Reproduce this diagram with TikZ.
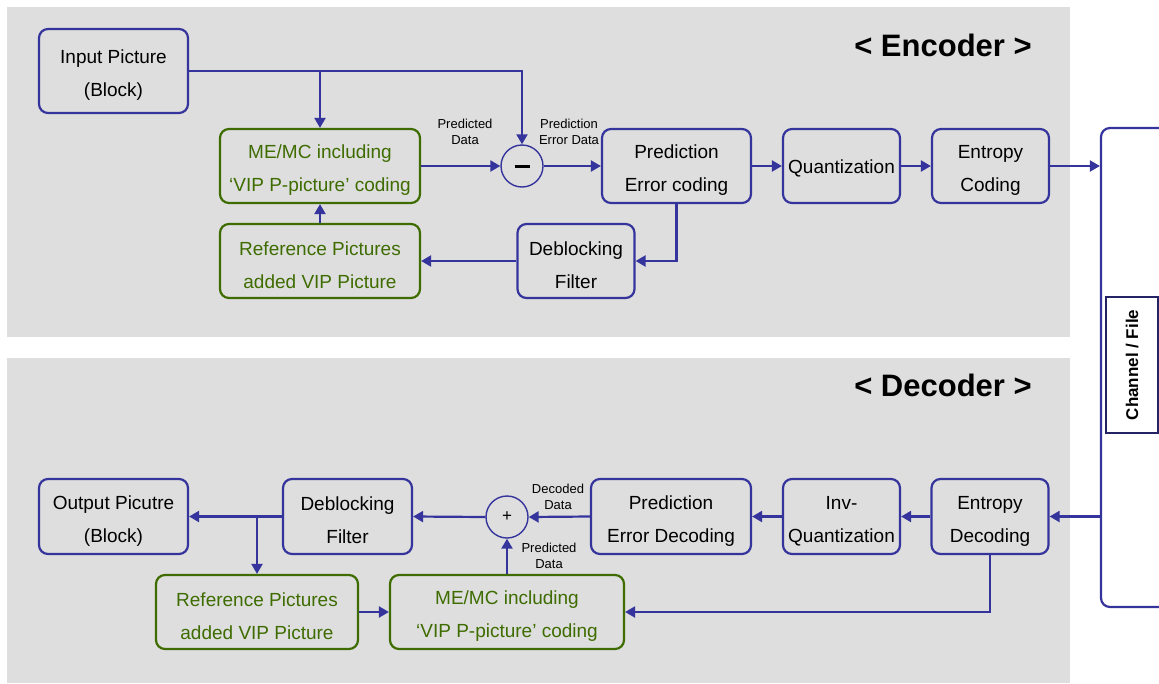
\documentclass[tikz,border=0pt]{standalone}
\usepackage{fontspec}
\setmainfont{Liberation Sans}
\usetikzlibrary{arrows.meta,calc}
\definecolor{lblue}{RGB}{52,52,156}
\definecolor{lgreen}{RGB}{62,108,0}
\definecolor{panel}{RGB}{222,222,222}
\definecolor{dframe}{RGB}{36,36,100}
\newcommand\bxup{\rule{0pt}{22pt}}
\begin{document}
\begin{tikzpicture}[x=1pt,y=-1pt,
  blk/.style={draw=lblue,line width=2.2pt,rounded corners=9pt,align=center,inner sep=0pt,
    font=\fontsize{19}{33}\selectfont},
  gblk/.style={blk,draw=lgreen,text=lgreen},
  sumc/.style={circle,draw=lblue,line width=1.4pt,minimum size=42pt,inner sep=0pt},
  conn/.style={draw=lblue,line width=2.2pt,-{Triangle[length=10pt,width=11pt]}},
  lbl/.style={font=\fontsize{13}{15.5}\selectfont,align=center,inner sep=0pt},
  hdr/.style={font=\fontsize{31}{33}\selectfont\bfseries,inner sep=0pt}]
\useasboundingbox (0,0) rectangle (1159,683);
\clip (0,0) rectangle (1159,683);
% panels
\fill[panel] (7,7) rectangle (1070,337);
\fill[panel] (7,358) rectangle (1070,683);
\node[hdr] (enchdr) at (943,45) {<~Encoder~>};
\node[hdr] (dechdr) at (943,385) {<~Decoder~>};
% channel
\node[draw=lblue,line width=2.2pt,rounded corners=9pt,minimum width=99pt,minimum height=479pt,inner sep=0pt] (chan) at (1150.5,367.5) {};
\node[draw=dframe,fill=white,line width=1.6pt,rotate=90,minimum width=136pt,minimum height=52pt,inner sep=0pt,
  font=\fontsize{17}{20}\selectfont\bfseries] (chanlbl) at (1132,365) {Channel / File};
% encoder
\node[blk,minimum width=149pt,minimum height=84pt] (inp) at (113.5,71) {\bxup Input Picture\\(Block)};
\node[gblk,minimum width=200pt,minimum height=74pt] (mem) at (320,166) {\bxup ME/MC including\\‘VIP P-picture’ coding};
\node[gblk,minimum width=200pt,minimum height=74pt] (ref) at (320,261) {\bxup Reference Pictures\\added VIP Picture};
\node[sumc] (minus) at (522,166) {\rule[-1.5pt]{15pt}{3pt}};
\node[blk,minimum width=149pt,minimum height=74pt] (pec) at (676.5,166) {\bxup Prediction\\Error coding};
\node[blk,minimum width=117pt,minimum height=74pt] (quant) at (841.5,166) {\rule{0pt}{18pt}Quantization};
\node[blk,minimum width=117pt,minimum height=74pt] (ent) at (990.5,166) {\bxup Entropy\\Coding};
\node[blk,minimum width=117pt,minimum height=74pt] (deb) at (576,261) {\bxup Deblocking\\Filter};
\node[lbl] (lpd) at (465,132) {Predicted\\Data};
\node[lbl] (lped) at (569,132) {Prediction\\Error Data};
\draw[conn] (inp.east) -| (minus.north);
\draw[conn] (inp.east -| mem.north) -- (mem.north);
\draw[conn] (mem.east) -- (minus.west);
\draw[conn] (minus.east) -- (pec.west);
\draw[conn] (pec.east) -- (quant.west);
\draw[conn] (quant.east) -- (ent.west);
\draw[conn] (ent.east) -- (ent.east -| chan.west);
\draw[conn] (pec.south) |- (deb.east);
\draw[conn] (deb.west) -- (ref.east);
\draw[conn] (ref.north) -- (mem.south);
% decoder
\node[blk,minimum width=149pt,minimum height=75pt] (out) at (113.5,516.5) {\bxup Output Picutre\\(Block)};
\node[blk,minimum width=129pt,minimum height=75pt] (ddeb) at (347.5,516.5) {\bxup Deblocking\\Filter};
\node[sumc] (plus) at (507,517) {\fontsize{17}{17}\selectfont +};
\node[blk,minimum width=160pt,minimum height=75pt] (ped) at (671,516.5) {\bxup Prediction\\Error Decoding};
\node[blk,minimum width=117pt,minimum height=75pt] (iq) at (841.5,516.5) {\bxup Inv-\\Quantization};
\node[blk,minimum width=117pt,minimum height=75pt] (ed) at (990,516.5) {\bxup Entropy\\Decoding};
\node[gblk,minimum width=202pt,minimum height=74pt] (dref) at (257,612) {\bxup Reference Pictures\\added VIP Picture};
\node[gblk,minimum width=234pt,minimum height=74pt] (dmem) at (507,612) {\bxup ME/MC including\\‘VIP P-picture’ coding};
\node[lbl] (ldd) at (558,497) {Decoded\\Data};
\node[lbl] (lpd2) at (549,556) {Predicted\\Data};
\draw[conn] (ed.east -| chan.west) -- (ed.east);
\draw[conn] (ed.west) -- (iq.east);
\draw[conn] (iq.west) -- (ped.east);
\draw[conn] (ped.west) -- (plus.east);
\draw[conn] (plus.west) -- (ddeb.east);
\draw[conn] (ddeb.west) -- (out.east);
\draw[conn] (out.east -| dref.north) -- (dref.north);
\draw[conn] (dref.east) -- (dmem.west);
\draw[conn] (dmem.north) -- (plus.south);
\draw[conn] (ed.south) |- (dmem.east);
\end{tikzpicture}
\end{document}
